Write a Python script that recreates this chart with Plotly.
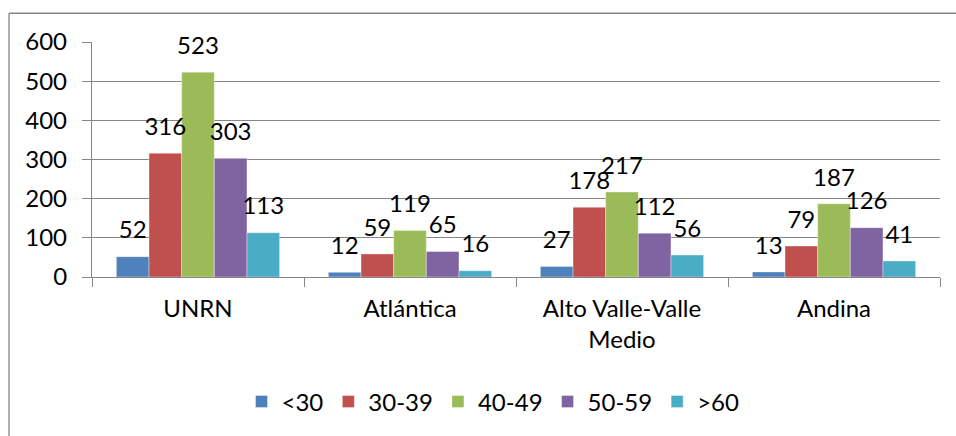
import plotly.graph_objects as go

categories = ["UNRN", "Atlántica", "Alto Valle-Valle<br>Medio", "Andina"]
series_names = ["<30", "30-39", "40-49", "50-59", ">60"]
v_lt30 = [52, 12, 27, 13]
v_30_39 = [316, 59, 178, 79]
v_40_49 = [523, 119, 217, 187]
v_50_59 = [303, 65, 112, 126]
v_gt60 = [113, 16, 56, 41]
series_values = [v_lt30, v_30_39, v_40_49, v_50_59, v_gt60]
colors = ["#4F81BD", "#C0504D", "#9BBB59", "#8064A2", "#4BACC6"]
y_ticks = [0, 100, 200, 300, 400, 500, 600]

FONT = "Lato"
FS = 24
GRID = "#868686"

L, T, PW, PH = 92, 42, 848, 237
W, H = 956, 436

fig = go.Figure()
for name, vals, col in zip(series_names, series_values, colors):
    fig.add_trace(go.Bar(
        x=categories, y=vals, name=name,
        marker=dict(color=col, line=dict(color="rgba(255,255,255,0.6)", width=0.6)),
        hoverinfo="skip",
    ))
for name, vals in zip(series_names, series_values):
    fig.add_trace(go.Scatter(
        x=categories, y=vals, mode="markers+text", text=[str(v) for v in vals],
        textposition="top center", showlegend=False, hoverinfo="skip",
        marker=dict(size=18, color="rgba(0,0,0,0)"),
        textfont=dict(family=FONT, size=FS, color="black"),
        cliponaxis=False,
    ))

def px_x(px):
    return (px - L) / PW

def px_y(py):
    return (T + PH - py) / PH

# outer chart border: left and top edges (right/bottom lie beyond the picture)
fig.add_shape(type="line", xref="paper", yref="paper",
              x0=px_x(9), x1=px_x(9), y0=px_y(460), y1=px_y(13),
              line=dict(color=GRID, width=1.3), layer="below")
fig.add_shape(type="line", xref="paper", yref="paper",
              x0=px_x(9), x1=px_x(980), y0=px_y(13), y1=px_y(13),
              line=dict(color=GRID, width=1.3), layer="below")

fig.update_layout(
    width=W, height=H,
    margin=dict(l=L, r=W - L - PW, t=T, b=H - T - PH),
    paper_bgcolor="white", plot_bgcolor="white",
    barmode="group", bargap=0.23, bargroupgap=0,
    scattermode="group", scattergap=0.23,
    font=dict(family=FONT, size=FS, color="black"),
    showlegend=True,
    legend=dict(orientation="h", x=px_x(493), xanchor="center",
                y=px_y(405), yanchor="middle",
                font=dict(family=FONT, size=FS, color="black"),
                traceorder="normal", itemwidth=30),
    xaxis=dict(showline=True, linecolor=GRID, linewidth=1.3,
               ticks="outside", tickson="boundaries", ticklen=9, tickcolor=GRID,
               tickwidth=1.3, showgrid=False, ticklabelstandoff=10,
               tickfont=dict(family=FONT, size=FS, color="black")),
    yaxis=dict(range=[0, 600], tickvals=y_ticks, showline=True, linecolor=GRID,
               linewidth=1.3, ticks="outside", ticklen=9, tickcolor=GRID, tickwidth=1.3,
               showgrid=True, gridcolor=GRID, gridwidth=1.3, zeroline=False,
               ticklabelstandoff=10,
               tickfont=dict(family=FONT, size=FS, color="black")),
)

fig.write_html(
    "out.html",
    config={"displayModeBar": False},
    post_script=("document.body.style.margin='0';"
                 "document.body.style.overflow='hidden';"
                 "document.documentElement.style.overflow='hidden';"),
)
